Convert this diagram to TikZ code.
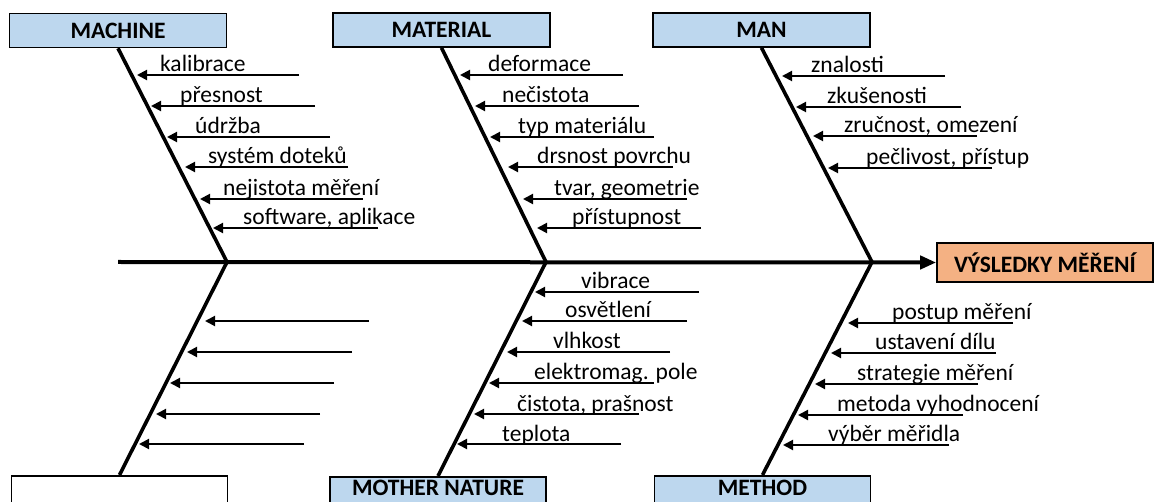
\documentclass[tikz,border=0pt]{standalone}
\usepackage{fontspec}
\setmainfont{Carlito}
\usetikzlibrary{arrows.meta}
\definecolor{hblue}{HTML}{BDD7EE}
\definecolor{horange}{HTML}{F4B183}
\tikzset{
 bone/.style={line width=3.6pt,line join=round},
 spine/.style={line width=4pt,-{Triangle[length=16pt,width=13pt]}},
 cause/.style={line width=2pt,-{Triangle[length=10pt,width=10pt]}},
 hbox/.style={draw,line width=1.6pt,fill=hblue,minimum width=217pt,minimum height=34pt,inner sep=0pt,font=\fontsize{23.5}{27}\selectfont\bfseries},
 bbox/.style={draw,line width=1.6pt,minimum width=216pt,minimum height=60pt,inner sep=0pt,anchor=north},
 btext/.style={anchor=base,inner sep=0pt,font=\fontsize{23.5}{27}\selectfont\bfseries},
 lbl/.style={anchor=base west,inner sep=0pt,font=\fontsize{23.5}{27}\selectfont},
}
\newcommand\cse[6]{%
 \coordinate (#1t) at (#3,#4);
 \coordinate (#1h) at (#2,#4);
 \draw[cause] (#1t) -- (#1h);
 \node[lbl] (#1l) at (#5,#4-3) {#6};
}
\newcommand\csn[4]{%
 \coordinate (#1t) at (#3,#4);
 \coordinate (#1h) at (#2,#4);
 \draw[cause] (#1t) -- (#1h);
}
\begin{document}
\begin{tikzpicture}[x=1pt,y=-1pt]
\useasboundingbox (0,0) rectangle (1154,502);
\clip (0,0) rectangle (1154,502);
% header boxes
\node[hbox] (mach) at (118,30.5) {MACHINE};
\node[hbox] (mat) at (441.5,30) {MATERIAL};
\node[hbox] (man) at (761.5,30) {MAN};
\node[draw,line width=1.6pt,fill=horange,minimum width=216pt,minimum height=39pt,inner sep=0pt,font=\fontsize{23.5}{27}\selectfont\bfseries] (res) at (1045,262.5) {VÝSLEDKY MĚŘENÍ};
% bottom boxes
\node[bbox,fill=white] (blank) at (119.5,475) {};
\node[bbox,fill=hblue] (nat) at (438,476) {};
\node[bbox,fill=hblue] (meth) at (762.5,475) {};
\node[btext] (natl) at (438,495.5) {MOTHER NATURE};
\node[btext] (methl) at (762.5,495.5) {METHOD};
% spine
\coordinate (tail) at (118,262);
\coordinate (j1) at (227,262);
\coordinate (j2) at (546,262);
\coordinate (j3) at (872,262);
\draw[spine] (tail) -- (res.west);
% bones
\draw[bone] (mach.south) -- (j1) -- (blank.north);
\draw[bone] (mat.south) -- (j2) -- (nat.north);
\draw[bone] (man.south) -- (j3) -- (meth.north);
% machine causes
\cse{a1}{137}{299}{75}{160}{kalibrace}
\cse{a2}{151}{315}{106}{180}{přesnost}
\cse{a3}{167}{330}{137}{195}{údržba}
\cse{a4}{185}{348}{167}{208}{systém doteků}
\cse{a5}{200}{363}{199}{223}{nejistota měření}
\cse{a6}{213}{378}{228}{243}{software, aplikace}
% material causes
\cse{b1}{460}{623}{75}{488}{deformace}
\cse{b2}{475}{639}{106}{502}{nečistota}
\cse{b3}{490}{654}{137}{518}{typ materiálu}
\cse{b4}{508}{673}{167}{537}{drsnost povrchu}
\cse{b5}{523}{687}{199}{554}{tvar, geometrie}
\cse{b6}{537}{701}{228}{572}{přístupnost}
% man causes
\cse{c1}{782}{945}{76}{811}{znalosti}
\cse{c2}{796}{961}{107}{827}{zkušenosti}
\cse{c3}{813}{977}{136}{844}{zručnost, omezení}
\cse{c4}{828}{992}{168}{866}{pečlivost, přístup}
% blank branch
\csn{d1}{205}{369}{321}
\csn{d2}{187}{352}{352}
\csn{d3}{170}{334}{383}
\csn{d4}{156}{320}{414}
\csn{d5}{139}{304}{444}
% mother nature causes
\cse{e1}{535}{699}{292}{581}{vibrace}
\cse{e2}{522}{687}{321}{565}{osvětlení}
\cse{e3}{507}{670}{352}{553}{vlhkost}
\cse{e4}{489}{654}{383}{534}{elektromag. pole}
\cse{e5}{474}{639}{414}{517}{čistota, prašnost}
\cse{e6}{457}{621}{444}{502}{teplota}
% method causes
\cse{f1}{848}{1013}{323}{892}{postup měření}
\cse{f2}{831}{996}{353}{875}{ustavení dílu}
\cse{f3}{815}{978}{384}{857}{strategie měření}
\cse{f4}{798}{963}{415}{837}{metoda vyhodnocení}
\cse{f5}{783}{949}{445}{828}{výběr měřidla}
\end{tikzpicture}
\end{document}
